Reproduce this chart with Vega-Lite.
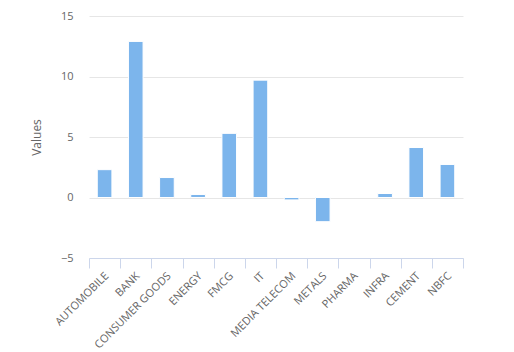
{
  "$schema": "https://vega.github.io/schema/vega-lite/v6.json",
  "width": 374,
  "height": 242,
  "autosize": {"type": "none"},
  "padding": {"left": 89, "top": 16, "right": 51, "bottom": 94},
  "background": "white",
  "config": {"view": {"stroke": null}, "font": "Open Sans"},
  "data": {"values": [
    {"sector": "AUTOMOBILE", "value": 2.3},
    {"sector": "BANK", "value": 12.9},
    {"sector": "CONSUMER GOODS", "value": 1.65},
    {"sector": "ENERGY", "value": 0.25},
    {"sector": "FMCG", "value": 5.3},
    {"sector": "IT", "value": 9.7},
    {"sector": "MEDIA TELECOM", "value": -0.2},
    {"sector": "METALS", "value": -2.0},
    {"sector": "PHARMA", "value": 0},
    {"sector": "INFRA", "value": 0.33},
    {"sector": "CEMENT", "value": 4.13},
    {"sector": "NBFC", "value": 2.73}
  ]},
  "mark": {"type": "bar", "color": "#7cb5ec", "stroke": "white", "strokeWidth": 1, "width": {"band": 0.47}},
  "encoding": {
    "x": {
      "field": "sector", "type": "nominal", "sort": null,
      "scale": {"paddingInner": 0, "paddingOuter": 0},
      "axis": {
        "title": null, "labelAngle": -45, "labelAlign": "right", "labelBaseline": "middle",
        "labelColor": "#666666", "labelFontSize": 11, "labelPadding": 6, "labelOffset": 2,
        "ticks": true, "tickSize": 10, "tickColor": "#ccd6eb", "tickBand": "extent",
        "domainColor": "#ccd6eb", "grid": false, "labelOverlap": false
      }
    },
    "y": {
      "field": "value", "type": "quantitative",
      "scale": {"domain": [-5, 15], "nice": false, "zero": false},
      "axis": {
        "title": "Values", "titleColor": "#666666", "titleFontSize": 12, "titleFontWeight": "normal",
        "titleX": -46,
        "values": [-5, 0, 5, 10, 15], "labelColor": "#666666", "labelFontSize": 11,
        "labelPadding": 16, "ticks": false, "domain": false, "gridColor": "#e6e6e6"
      }
    }
  }
}
